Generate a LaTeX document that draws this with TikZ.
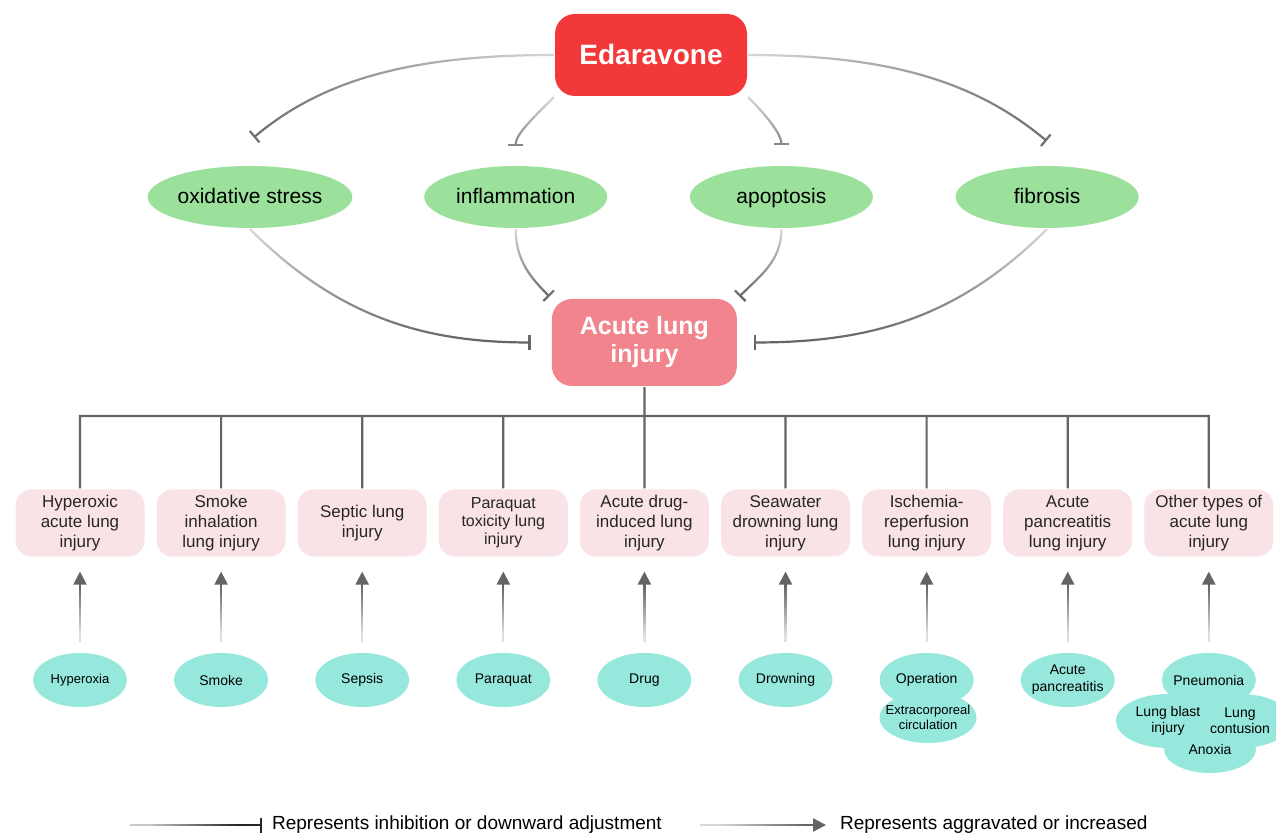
\documentclass[tikz,border=0pt]{standalone}
\usepackage{fontspec}
\setmainfont{Liberation Sans}
\usetikzlibrary{arrows.meta, shapes.geometric, fadings, positioning}

\definecolor{edred}{RGB}{243,56,58}
\definecolor{alipink}{RGB}{241,132,140}
\definecolor{effgreen}{RGB}{155,225,155}
\definecolor{causepink}{RGB}{250,227,230}
\definecolor{srccyan}{RGB}{150,232,220}
\definecolor{linegray}{RGB}{100,100,100}

\tikzfading[name=fadetop, top color=transparent!75, bottom color=transparent!0]
\tikzfading[name=fadebottom, top color=transparent!0, bottom color=transparent!80]
\tikzfading[name=fadeleft, left color=transparent!75, right color=transparent!0]
\tikzfading[name=faderight, left color=transparent!0, right color=transparent!75]

\begin{document}
\begin{tikzpicture}[
            x = 1pt, y = 1pt, % one unit per pixel
            > = {Triangle[length=13pt, width=13pt]}, % arrow head style
            line width = 2.2pt, % line style
            node distance = 141.1pt, % distance between the injury boxes
            inhibit/.style = {linegray, -{Bar[width=15pt]}},
            raise/.style = {linegray, ->, shorten < = 10pt, shorten > = 14pt},
            rise from/.style = {path fading = fadebottom, fit fading = false,
                fading transform = {shift = {([yshift=42pt]#1.north)}}},
            key from/.style = {path fading = fadeleft, fit fading = false,
                fading transform = {shift = {([xshift=62pt]#1)}, xscale = 1.8}}
        ]

        \tikzstyle{drug}=[
            rectangle,
            rounded corners = 20pt,
            fill = edred,
            text = white,
            minimum width = 192pt,
            minimum height = 82pt,
            font = \fontsize{28}{32}\selectfont\bfseries
        ]
        \tikzstyle{injury}=[
            rectangle,
            rounded corners = 20pt,
            fill = alipink,
            text = white,
            align = center,
            minimum width = 185pt,
            minimum height = 87pt,
            font = \fontsize{25}{28}\selectfont\bfseries
        ]
        \tikzstyle{effect}=[
            ellipse,
            fill = effgreen,
            inner sep = 0pt,
            text height = 15pt,
            text depth = 2pt,
            minimum width = 183pt,
            minimum height = 62pt,
            font = \fontsize{21}{25}\selectfont
        ]
        \tikzstyle{cause}=[
            rectangle,
            rounded corners = 16pt,
            fill = causepink,
            text = black!85,
            align = center,
            inner sep = 0pt,
            minimum width = 129pt,
            minimum height = 67pt,
            font = \fontsize{17}{20}\selectfont
        ]
        \tikzstyle{source}=[
            ellipse,
            fill = srccyan,
            align = center,
            inner xsep = -5pt,
            inner ysep = 0pt,
            minimum width = 94pt,
            minimum height = 54pt,
            font = \fontsize{14}{17}\selectfont
        ]
        \tikzstyle{srctext}=[align = center, inner sep = 0pt, font = \fontsize{14}{16}\selectfont]
        \tikzstyle{legend}=[anchor = west, inner ysep = 0pt, font = \fontsize{19}{23}\selectfont]

        \useasboundingbox (0,0) rectangle (1276,835);
        \fill[white] (0,0) rectangle (1276,835);

        % drug and target disease
        \node[drug] (ed) at (651,780) {Edaravone};
        \node[injury] (ali) at (644.4,492.5) {Acute lung\\injury};

        % mechanisms
        \begin{scope}[node distance = 265.7pt]
        \node[effect] (ox) at (250,638) {oxidative stress};
        \node[effect] (infl) [right of=ox] {inflammation};
        \node[effect] (apo) [right of=infl] {apoptosis};
        \node[effect] (fib) [right of=apo] {fibrosis};
        \end{scope}

        % types of acute lung injury
        \node[cause] (c1) at (80,312) {Hyperoxic\\acute lung\\injury};
        \node[cause] (c2) [right of=c1] {Smoke\\inhalation\\lung injury};
        \node[cause] (c3) [right of=c2] {Septic lung\\injury};
        \node[cause, font=\fontsize{16}{18}\selectfont] (c4) [right of=c3] {Paraquat\\toxicity lung\\injury};
        \node[cause] (c5) [right of=c4] {Acute drug-\\induced lung\\injury};
        \node[cause] (c6) [right of=c5] {Seawater\\drowning lung\\injury};
        \node[cause] (c7) [right of=c6] {Ischemia-\\reperfusion\\lung injury};
        \node[cause] (c8) [right of=c7] {Acute\\pancreatitis\\lung injury};
        \node[cause] (c9) [right of=c8] {Other types of\\acute lung\\injury};

        % causes
        \begin{scope}[node distance = 157pt]
        \node[source, font=\fontsize{13}{16}\selectfont] (s1) [below of=c1] {Hyperoxia};
        \node[source] (s2) [below of=c2] {Smoke};
        \node[source] (s3) [below of=c3] {Sepsis};
        \node[source] (s4) [below of=c4] {Paraquat};
        \node[source] (s5) [below of=c5] {Drug};
        \node[source] (s6) [below of=c6] {Drowning};
        \node[source] (s7) [below of=c7] {Operation};
        \node[source] (s8) [below of=c8] {Acute\\pancreatitis};
        \node[source] (s9) [below of=c9] {Pneumonia};
        \end{scope}
        \node[source, inner xsep = -8pt, minimum width = 97pt, minimum height = 51pt,
            font = \fontsize{13}{15}\selectfont] (s7b) at (928,117.5) {Extracorporeal\\circulation};
        \node[source, minimum width = 104pt] (blast) at (1168,114) {};
        \node[source, minimum width = 104pt] (contusion) at (1240,114) {};
        \node[source, minimum width = 92pt, minimum height = 48pt] (anoxia) at (1210,86) {};
        \node[srctext] at (blast) {Lung blast\\injury};
        \node[srctext] at (contusion) {Lung\\contusion};
        \node[srctext] at (anoxia) {Anoxia};

        % inhibition by edaravone
        \path[inhibit] (ed.west) edge[out=180, in=40, shorten > = 45pt, path fading = faderight] (ox.135);
        \path[inhibit] (ed.south west) edge[out=225, in=90, shorten > = 19pt, path fading = fadetop] (infl.north);
        \path[inhibit] (ed.south east) edge[out=-45, in=90, shorten > = 20pt, path fading = fadetop] (apo.north);
        \path[inhibit] (ed.east) edge[out=0, in=140, shorten > = 40pt, path fading = fadeleft] (fib.45);

        % mechanisms acting on lung injury
        \path[inhibit] (ox.south) edge[out=-45, in=180, shorten > = 20pt, path fading = fadetop] (ali.west);
        \path[inhibit] (infl.south) edge[out=-90, in=135, shorten > = 2pt, path fading = fadetop] (ali.north west);
        \path[inhibit] (apo.south) edge[out=-90, in=45, shorten > = 2pt, path fading = fadetop] (ali.north east);
        \path[inhibit] (fib.south) edge[out=-135, in=0, shorten > = 16pt, path fading = fadetop] (ali.east);

        % tree of types
        \coordinate (bus) at ([yshift=-29pt]ali.south);
        \draw[linegray] (ali.south) -- (c5.north)
            (c1.north) |- (bus) (c2.north) |- (bus) (c3.north) |- (bus)
            (c4.north) |- (bus) (c6.north) |- (bus)
            (c7.north) |- (bus) (c8.north) |- (bus) (c9.north) |- (bus);

        \path[raise] (s1.north) edge[rise from=s1] (c1.south);
        \path[raise] (s2.north) edge[rise from=s2] (c2.south);
        \path[raise] (s3.north) edge[rise from=s3] (c3.south);
        \path[raise] (s4.north) edge[rise from=s4] (c4.south);
        \path[raise] (s5.north) edge[rise from=s5] (c5.south);
        \path[raise] (s6.north) edge[rise from=s6] (c6.south);
        \path[raise] (s7.north) edge[rise from=s7] (c7.south);
        \path[raise] (s8.north) edge[rise from=s8] (c8.south);
        \path[raise] (s9.north) edge[rise from=s9] (c9.south);

        % legend
        \coordinate (inhstart) at (130,10);
        \coordinate (risestart) at (700,10);
        \node[legend, inner xsep = 9pt] (inhtext) at (262,10) {Represents inhibition or downward adjustment};
        \node[legend, inner xsep = 13pt] (risetext) at (826,10) {Represents aggravated or increased};
        \path[inhibit, black!85] (inhstart) edge[key from=inhstart] (inhtext.west);
        \path[raise, shorten < = 0pt, shorten > = 0pt] (risestart) edge[key from=risestart] (risetext.west);

  \end{tikzpicture}
\end{document}
